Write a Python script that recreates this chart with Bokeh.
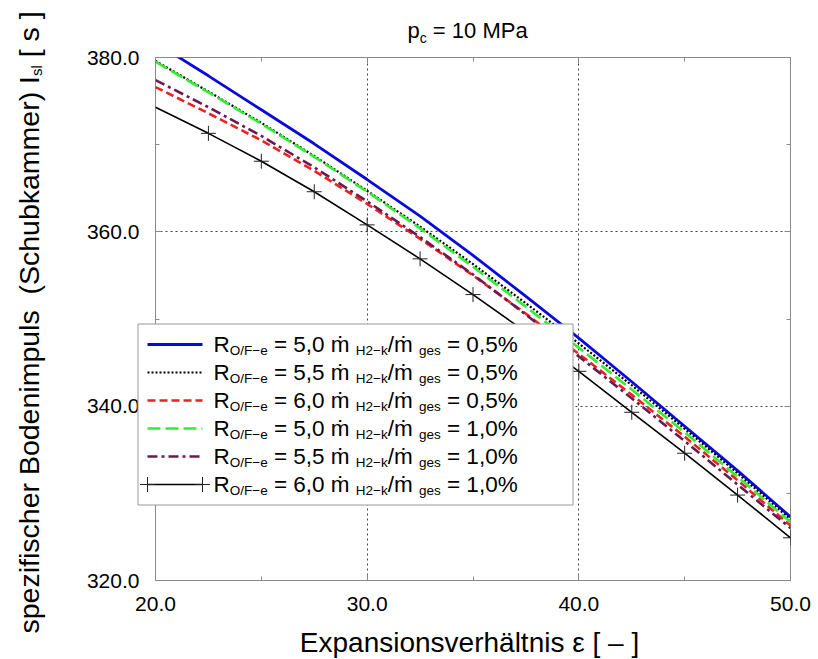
import math
import re
from bokeh.plotting import figure
from bokeh.models import (Range1d, FixedTicker, LinearAxis, Label, Grid,
                          PrintfTickFormatter, GridBox)
from bokeh.embed import file_html
from bokeh.resources import INLINE

# ---------------- data ----------------
eps = [20.0, 22.5, 25.0, 27.5, 30.0, 32.5, 35.0, 37.5, 40.0, 42.5, 45.0, 47.5, 50.0]
isp_of50_h05 = [381.7, 377.9, 374.0, 370.1, 366.0, 361.8, 357.3, 352.6, 347.8, 342.8, 337.7, 332.6, 327.3]
isp_of55_h05 = [379.6, 376.1, 372.5, 368.7, 364.7, 360.6, 356.3, 351.8, 347.2, 342.4, 337.4, 332.3, 327.0]
isp_of60_h05 = [376.6, 373.6, 370.5, 367.0, 363.2, 359.2, 355.0, 350.6, 346.0, 341.3, 336.5, 331.5, 326.3]
isp_of50_h10 = [379.5, 376.0, 372.4, 368.6, 364.6, 360.4, 356.0, 351.4, 346.7, 341.9, 337.0, 331.9, 326.7]
isp_of55_h10 = [377.4, 374.3, 371.0, 367.4, 363.5, 359.4, 355.1, 350.5, 345.7, 340.9, 336.0, 331.0, 326.0]
isp_of60_h10 = [374.3, 371.3, 368.1, 364.6, 360.8, 356.9, 352.8, 348.5, 344.0, 339.3, 334.6, 329.8, 324.9]

of_ratios = ["5,0", "5,5", "6,0", "5,0", "5,5", "6,0"]
h2_fractions = ["0,5%", "0,5%", "0,5%", "1,0%", "1,0%", "1,0%"]

x_ticks = [20, 30, 40, 50]
x_minor = [25, 35, 45]
y_ticks = [320, 340, 360, 380]
y_minor = [330, 350, 370]
x_grid = [30, 40]
y_grid = [340, 360]

title_main, title_sub, title_rest = "p", "c", " = 10 MPa"
ylabel_main, ylabel_sub, ylabel_rest = "spezifischer Bodenimpuls  (Schubkammer) I", "sl", " [ s ]"
xlabel = "Expansionsverhältnis ε [ – ]"

# ---------------- layout ----------------
FONT = "Liberation Sans"
W, H = 818, 659
FL, FR, FT, FB = 155, 790, 57, 580   # frame edges in canvas px

AW = {' ': 278, '(': 333, ')': 333, '[': 278, ']': 278, '/': 278, '=': 584, ',': 278, '.': 278,
      '%': 889, '−': 584, '–': 556, 'B': 667, 'E': 667, 'F': 611, 'H': 722, 'I': 278, 'M': 833,
      'O': 778, 'P': 667, 'R': 722, 'S': 667, 'a': 556, 'b': 556, 'c': 500, 'd': 556, 'e': 556,
      'f': 278, 'g': 556, 'h': 556, 'i': 222, 'k': 500, 'l': 222, 'm': 833, 'n': 556, 'o': 556,
      'p': 556, 'r': 333, 's': 500, 't': 278, 'u': 556, 'v': 500, 'x': 500, 'z': 500, 'ä': 556,
      'ṁ': 833, 'ε': 446}

def tw(s, size):
    return sum(AW.get(ch, 556) for ch in s) * size / 1000.0

# ---------------- main chart ----------------
p = figure(width=W, height=H, output_backend="svg", toolbar_location=None, title=None,
           x_range=Range1d(x_ticks[0], x_ticks[-1]), y_range=Range1d(y_ticks[0], y_ticks[-1]),
           min_border_left=FL, min_border_right=W - FR, min_border_top=FT,
           min_border_bottom=H - FB)
p.background_fill_color = "white"
p.border_fill_color = "white"
p.outline_line_color = "#8a8a8a"
p.outline_line_width = 1

bottom_ax = p.xaxis[0]
left_ax = p.yaxis[0]
p.xgrid.visible = False
p.ygrid.visible = False
p.add_layout(Grid(dimension=0, ticker=FixedTicker(ticks=x_grid), grid_line_color="#444444",
                  grid_line_dash="2 3", grid_line_width=1))
p.add_layout(Grid(dimension=1, ticker=FixedTicker(ticks=y_grid), grid_line_color="#444444",
                  grid_line_dash="2 3", grid_line_width=1))

xt = FixedTicker(ticks=x_ticks, minor_ticks=x_minor)
yt = FixedTicker(ticks=y_ticks, minor_ticks=y_minor)
top_ax = LinearAxis(ticker=xt)
right_ax = LinearAxis(ticker=yt)
p.add_layout(top_ax, "above")
p.add_layout(right_ax, "right")

for ax, tk in [(bottom_ax, xt), (left_ax, yt), (top_ax, xt), (right_ax, yt)]:
    ax.ticker = tk
    ax.axis_line_color = None
    ax.major_tick_in = 6
    ax.major_tick_out = 0
    ax.minor_tick_in = 4
    ax.minor_tick_out = 0
    ax.major_tick_line_color = "#8a8a8a"
    ax.minor_tick_line_color = "#8a8a8a"
    ax.formatter = PrintfTickFormatter(format="%.1f")
    ax.major_label_text_font = FONT
    ax.major_label_text_font_size = "21px"
    ax.major_label_text_color = "black"
for ax in (top_ax, right_ax):
    ax.major_label_text_font_size = "1px"
    ax.major_label_text_color = None
    ax.major_label_standoff = 0
bottom_ax.major_label_standoff = 16
left_ax.major_label_standoff = 16

series = [isp_of50_h05, isp_of55_h05, isp_of60_h05, isp_of50_h10, isp_of55_h10, isp_of60_h10]
styles = [
    dict(line_color="#0a0ad8", line_width=2.8),
    dict(line_color="black", line_width=2.2, line_dash="2 2"),
    dict(line_color="#ee2020", line_width=2.6, line_dash="8 4"),
    dict(line_color="#30ee30", line_width=2.6, line_dash="13 5"),
    dict(line_color="#6a1a50", line_width=2.6, line_dash="10 4 3 4"),
    dict(line_color="black", line_width=1.6),
]
cross_style = dict(marker="cross", size=15, line_color="#222222", line_width=1)

for ys, st in zip(series, styles):
    p.line(eps, ys, **st)
p.scatter(eps[1:], isp_of60_h10[1:], **cross_style)

# ---------------- transparent overlay (pixel coordinates) for texts and the key ----------------
ov = figure(frame_width=W, frame_height=H, output_backend="svg", toolbar_location=None,
            title=None, x_range=Range1d(0, W), y_range=Range1d(H, 0),
            x_axis_type=None, y_axis_type=None,
            min_border=0, min_border_left=0, min_border_right=0, min_border_top=0,
            min_border_bottom=0)
if hasattr(ov, "frame_align"):
    ov.frame_align = False
ov.background_fill_alpha = 0
ov.border_fill_alpha = 0
ov.outline_line_color = None

MID = 0.35  # distance (in em) from the alphabetic baseline up to the text middle

def label(x, y, text, size, angle=0.0, align="left"):
    ov.add_layout(Label(x=x, y=y, text=text, text_font=FONT,
                        text_font_size="%spx" % size, text_color="black",
                        text_align=align, text_baseline="middle", angle=angle))

def place(pos, base, text, size, rotated=False):
    """Draw text starting at `pos` along the writing direction with baseline `base`;
    returns the advanced position. Space runs are turned into gaps."""
    step = -1 if rotated else 1
    for part in re.split(r"(  +)", text):
        if not part:
            continue
        if part.strip() == "":
            pos += step * tw(part, size)
            continue
        lead = len(part) - len(part.lstrip(" "))
        trail = len(part) - len(part.rstrip(" "))
        core = part.strip(" ")
        pos += step * tw(" " * lead, size)
        if rotated:
            label(base - MID * size, pos, core, size, angle=math.pi / 2)
        else:
            label(pos, base - MID * size, core, size)
        pos += step * (tw(core, size) + tw(" " * trail, size))
    return pos

# key box
KL, KR, KT, KB = 137.5, 572.5, 323.5, 504.5
ov.quad(left=[KL], right=[KR], top=[KT], bottom=[KB], fill_color="white",
        line_color="#999999", line_width=1)

MAIN, SUB = 22.5, 13.5
for i, (rof, frac, st) in enumerate(zip(of_ratios, h2_fractions, styles)):
    row = 344 + i * 28
    ov.line([147, 202], [row, row], **st)
    if i == len(styles) - 1:
        ov.scatter([147, 202], [row, row], **cross_style)
    yb, ysb = row + 8, row + 11
    x = 213.0
    x = place(x, yb, "R", MAIN)
    x = place(x, ysb, "O/F−e", SUB)
    x = place(x, yb, " = %s ṁ " % rof, MAIN)
    x = place(x, ysb, "H2−k", SUB)
    x = place(x, yb, "/ṁ ", MAIN)
    x = place(x, ysb, "ges", SUB)
    x = place(x, yb, " = %s" % frac, MAIN)

# title
tx = 407.0
tx = place(tx, 38, title_main, 22)
tx = place(tx, 42, title_sub, 14)
tx = place(tx, 38, title_rest, 22)

# y axis label (rotated, reading bottom to top)
YL = 28.5
yy = 633.0
yy = place(yy, 38, ylabel_main, YL, rotated=True)
yy = place(yy, 41, ylabel_sub, 15, rotated=True)
yy = place(yy, 38, ylabel_rest, YL, rotated=True)

# x axis label
label(469, 652 - MID * 28, xlabel, 28, align="center")

layout = GridBox(children=[(p, 0, 0), (ov, 0, 0)])
open("out.html", "w").write(file_html(layout, INLINE))
